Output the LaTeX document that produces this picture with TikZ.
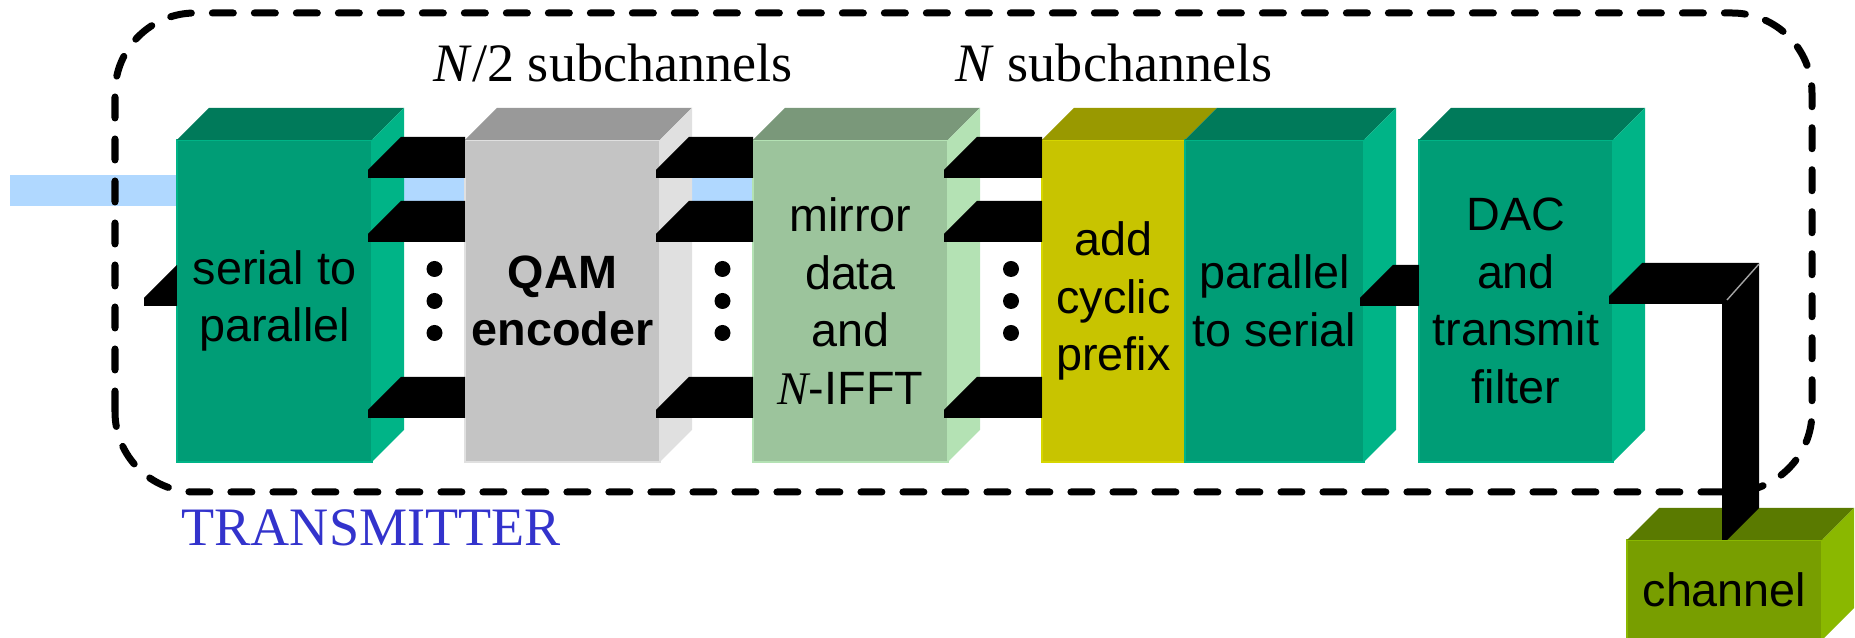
\documentclass[tikz,border=0pt]{standalone}
\usepackage{fontspec}
\setmainfont{Liberation Serif}
\setsansfont{Liberation Sans}
\usetikzlibrary{positioning,calc,backgrounds}

\definecolor{tealfront}{RGB}{0,157,118}
\definecolor{tealtop}{RGB}{0,122,90}
\definecolor{tealside}{RGB}{0,180,135}
\definecolor{grayfront}{RGB}{196,196,196}
\definecolor{graytop}{RGB}{153,153,153}
\definecolor{grayside}{RGB}{224,224,224}
\definecolor{mintfront}{RGB}{156,196,156}
\definecolor{minttop}{RGB}{122,152,122}
\definecolor{mintside}{RGB}{180,226,180}
\definecolor{olivefront}{RGB}{200,196,0}
\definecolor{olivetop}{RGB}{153,153,0}
\definecolor{oliveedge}{RGB}{214,214,0}
\definecolor{chanfront}{RGB}{120,158,0}
\definecolor{chantop}{RGB}{90,122,0}
\definecolor{chanside}{RGB}{138,184,0}
\definecolor{feedblue}{RGB}{176,216,255}
\definecolor{txblue}{RGB}{51,51,204}

\newcommand{\blockfont}{\sffamily\fontsize{13.3}{16.4}\selectfont}
% top and right faces of a block
\newcommand{\topface}[2]{\fill[fill=#2] (#1.north west) -- ++(0.32,0.32) -- ([shift={(0.32,0.32)}]#1.north east) -- (#1.north east) -- cycle;}
\newcommand{\sideface}[2]{\fill[fill=#2] (#1.north east) -- ++(0.32,0.32) -- ([shift={(0.32,0.32)}]#1.south east) -- (#1.south east) -- cycle;}
% black 3d bar between two blocks
\newcommand{\chbar}[3]{\fill[bar] ([shift={(-0.04,#3)}]#1.north east) -- ++(0,0.08) -- ++(0.33,0.33) -| ([shift={(0,#3)}]#2.north west) -- cycle;}

\tikzset{
  block/.style={rectangle, inner sep=0pt, outer sep=0pt, align=center, line width=0.6pt,
    minimum width=1.95cm, minimum height=3.22cm, font=\blockfont},
  bar/.style={fill=black},
  feed/.style={fill=feedblue},
  tagtext/.style={inner sep=0pt, font=\fontsize{15.4}{18}\selectfont},
  txbox/.style={draw=black, line width=0.07cm, line cap=round,
    dash pattern=on 0.21cm off 0.21cm, rounded corners=0.8cm},
}

\begin{document}
\begin{tikzpicture}
\useasboundingbox (0,0) rectangle (18.55,6.38);

% blocks
\node[block, fill=tealfront, draw=tealside] (s2p) at (2.745,3.37) {serial to\\parallel};
\node[block, fill=grayfront, draw=grayside, right=0.93cm of s2p, font=\blockfont\bfseries] (qam) {QAM\\encoder};
\node[block, fill=mintfront, draw=mintside, right=0.93cm of qam] (mirror) {mirror\\data\\and\\{\rmfamily\itshape N}-IFFT};
\node[block, fill=olivefront, draw=oliveedge, right=0.94cm of mirror, minimum width=1.43cm] (cp) {add\\cyclic\\prefix};
\topface{cp}{olivetop}
\node[block, fill=tealfront, draw=tealside, right=0pt of cp, minimum width=1.79cm] (p2s) {parallel\\to serial};
\node[block, fill=tealfront, draw=tealside, right=0.55cm of p2s, minimum width=1.94cm] (dac) {DAC\\and\\transmit\\filter};
\node[block, fill=chanfront, draw=chanside, minimum height=1cm, below right=0.78cm and 0.14cm of dac] (chan) {channel};

\foreach \b/\ftop/\fside in {s2p/tealtop/tealside, qam/graytop/grayside, mirror/minttop/mintside,
    p2s/tealtop/tealside, dac/tealtop/tealside, chan/chantop/chanside} {
  \topface{\b}{\ftop}
  \sideface{\b}{\fside}
}

% serial input
\begin{scope}[on background layer]
  \coordinate (src) at (0.10,4.32);
  \fill[feed] (src) rectangle ([yshift=1.26cm]mirror.west);
\end{scope}

\draw[txbox] (1.15,1.46) rectangle (18.12,6.25);

% subchannel bars
\coordinate (in) at ([shift={(-0.33,1.56)}]s2p.south west);
\fill[bar] (in) -- ++(0,0.08) -- ++(0.33,0.33) |- (in) -- cycle;
\foreach \a/\b in {s2p/qam, qam/mirror, mirror/cp} {
  \foreach \d in {-0.38,-1.02,-2.78} {\chbar{\a}{\b}{\d}}
  \foreach \dy in {-0.32,0,0.32}
    \fill ($(\a.east)!0.5!(\b.west)+(0.16,\dy)$) circle (0.08);
}
\chbar{p2s}{dac}{-1.66}

% to the channel
\coordinate (dacout) at ([shift={(-0.04,-1.64)}]dac.north east);
\coordinate (drop) at ([xshift=0.95cm]chan.north west);
\fill[bar] (dacout) -- ++(0,0.08) -- ++(0.33,0.33) -| ([shift={(0.37,0.32)}]drop)
  -- ++(-0.32,-0.32) -- (drop) |- (dacout) -- cycle;
\draw[gray!70, line width=0.4pt] ([xshift=0.05cm]drop |- dacout) ++(0,0.04) -- ++(0.32,0.36);

% labels
\node[tagtext, anchor=base west] (halfsub) at (4.33,5.56) {\textit{N}/2 subchannels};
\node[tagtext, anchor=base west] (fullsub) at (9.55,5.56) {\textit{N} subchannels};
\node[tagtext, anchor=base west, text=txblue] (txname) at (1.81,0.92) {TRANSMITTER};
\end{tikzpicture}
\end{document}
